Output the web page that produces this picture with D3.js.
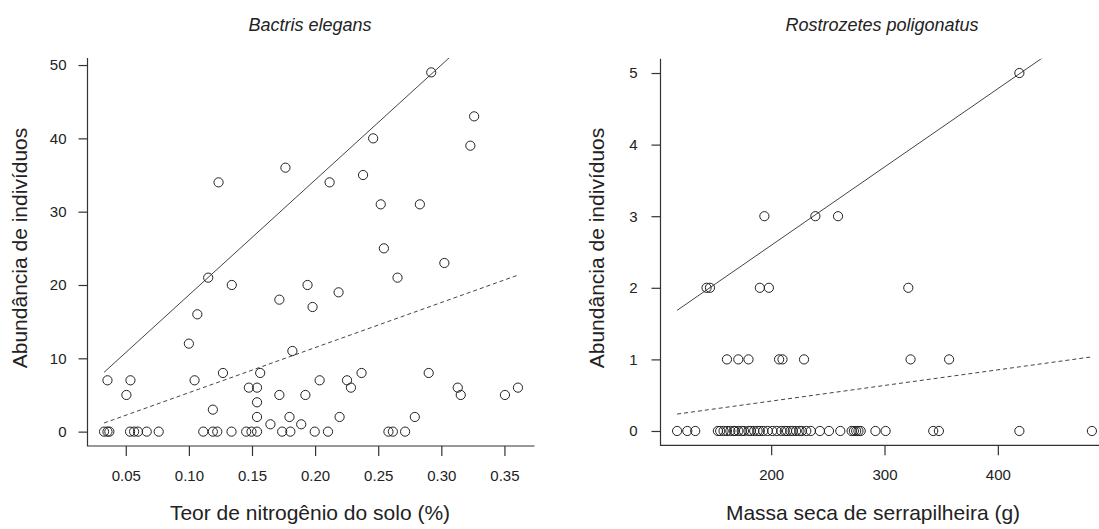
<!DOCTYPE html>
<html>
<head>
<meta charset="utf-8">
<script src="https://cdn.jsdelivr.net/npm/d3@7"></script>
<style>
  html, body { margin: 0; padding: 0; background: #fff; }
  svg { display: block; }
  text { font-family: "Liberation Sans", Arial, sans-serif; fill: #222; }
</style>
</head>
<body>
<svg id="chart" width="1099" height="529"></svg>
<script>
// Bactris elegans: soil nitrogen (%) vs. number of individuals
const bactrisN = [
  0.292, 0.326, 0.323, 0.246, 0.1765, 0.2115, 0.238, 0.252, 0.283, 0.2545,
  0.1235, 0.1153, 0.134, 0.1717, 0.1067, 0.100, 0.182, 0.0355, 0.0537, 0.1045,
  0.127, 0.1565, 0.0505, 0.119, 0.1475, 0.154, 0.154, 0.1717, 0.154, 0.1646,
  0.1797, 0.189, 0.3024, 0.2653, 0.194, 0.2186, 0.198, 0.2036, 0.2253, 0.2284,
  0.2368, 0.290, 0.313, 0.3154, 0.3504, 0.3607, 0.1923, 0.2194, 0.279,
  0.0328, 0.0355, 0.037, 0.0534, 0.0566, 0.0597, 0.0666, 0.0761, 0.1114, 0.119,
  0.1225, 0.1338, 0.1454, 0.1496, 0.154, 0.1739, 0.1804, 0.1997, 0.2102, 0.2581,
  0.2616, 0.2713
];
const bactrisAbund = [
  49, 43, 39, 40, 36, 34, 35, 31, 31, 25,
  34, 21, 20, 18, 16, 12, 11, 7, 7, 7,
  8, 8, 5, 3, 6, 6, 4, 5, 2, 1,
  2, 1, 23, 21, 20, 19, 17, 7, 7, 6,
  8, 8, 6, 5, 5, 6, 5, 2, 2,
  0, 0, 0, 0, 0, 0, 0, 0, 0, 0,
  0, 0, 0, 0, 0, 0, 0, 0, 0, 0,
  0, 0
];

// Rostrozetes poligonatus: litter dry mass (g) vs. number of individuals
const rostroMass = [
  419, 194, 239, 259, 143, 146, 190, 198, 321, 161,
  171, 180, 207, 210, 229, 323, 357,
  117, 126, 133, 153, 155, 158, 161, 164, 167, 168, 171, 174, 176,
  180, 182, 185, 188, 190, 193, 197, 201, 205, 209, 212, 214, 217, 219,
  222, 225, 227, 231, 235, 243, 251, 261, 271, 273, 275, 277, 279,
  292, 301, 343, 348, 419, 483
];
const rostroAbund = [
  5, 3, 3, 3, 2, 2, 2, 2, 2, 1,
  1, 1, 1, 1, 1, 1, 1,
  0, 0, 0, 0, 0, 0, 0, 0, 0, 0, 0, 0, 0,
  0, 0, 0, 0, 0, 0, 0, 0, 0, 0, 0, 0, 0, 0,
  0, 0, 0, 0, 0, 0, 0, 0, 0, 0, 0, 0, 0,
  0, 0, 0, 0, 0, 0
];

// Fitted lines: [intercept, slope] for the upper (solid) and mean (dashed) fits
const bactrisUpper = [2.94, 156.9];
const bactrisMean = [-0.84, 61.5];
const rostroUpper = [0.405, 0.01094];
const rostroMean = [-0.0194, 0.002184];

const bactrisXTicks = [0.05, 0.10, 0.15, 0.20, 0.25, 0.30, 0.35];
const bactrisYTicks = [0, 10, 20, 30, 40, 50];
const rostroXTicks = [200, 300, 400];
const rostroYTicks = [0, 1, 2, 3, 4, 5];

const svg = d3.select("#chart");

// Pad a data range by 4% on each side
function padded(ext) {
  const r = ext[1] - ext[0];
  return [ext[0] - 0.04 * r, ext[1] + 0.04 * r];
}

function panel(opts) {
  const xs = opts.xs, ys = opts.ys;
  const x = d3.scaleLinear().domain(padded(d3.extent(xs))).range(opts.xRange);
  const y = d3.scaleLinear().domain(padded([0, d3.max(ys)])).range(opts.yRange);
  const g = svg.append("g");

  const clipId = "clip-" + opts.id;
  svg.append("clipPath").attr("id", clipId).append("rect")
    .attr("x", opts.xRange[0]).attr("y", opts.yRange[1])
    .attr("width", opts.xRange[1] - opts.xRange[0])
    .attr("height", opts.yRange[0] - opts.yRange[1]);

  // L-shaped frame
  g.append("path")
    .attr("d", `M${opts.xRange[0]},${opts.yRange[1]}V${opts.yRange[0]}H${opts.xRange[1]}`)
    .attr("fill", "none").attr("stroke", "#333").attr("stroke-width", 1.2);

  // x axis ticks and labels
  const xa = g.append("g").attr("transform", `translate(0,${opts.yRange[0]})`)
    .call(d3.axisBottom(x).tickValues(opts.xTicks).tickFormat(opts.xFmt)
      .tickSize(10).tickPadding(14));
  xa.select(".domain").remove();
  xa.selectAll("line").attr("stroke", "#333").attr("stroke-width", 1.2);
  xa.selectAll("text").attr("font-size", 15).attr("fill", "#333")
    .style("font-family", '"Liberation Sans", Arial, sans-serif');

  // y axis ticks and labels
  const ya = g.append("g").attr("transform", `translate(${opts.xRange[0]},0)`)
    .call(d3.axisLeft(y).tickValues(opts.yTicks).tickFormat(d3.format("d"))
      .tickSize(opts.yTickSize).tickPadding(opts.yTickPad));
  ya.select(".domain").remove();
  ya.selectAll("line").attr("stroke", "#333").attr("stroke-width", 1.2);
  ya.selectAll("text").attr("font-size", 15).attr("fill", "#333")
    .style("font-family", '"Liberation Sans", Arial, sans-serif');

  // fitted lines
  const lines = g.append("g").attr("clip-path", `url(#${clipId})`);
  const [xmin, xmax] = d3.extent(xs);
  [[opts.upper, null], [opts.mean, "4,3"]].forEach(([coef, dash]) => {
    const ends = [xmin, xmax].map(v => [x(v), y(coef[0] + coef[1] * v)]);
    lines.append("path")
      .attr("d", d3.line()(ends))
      .attr("fill", "none").attr("stroke", "#444").attr("stroke-width", 1)
      .attr("stroke-dasharray", dash);
  });

  // points
  g.append("g").selectAll("circle").data(d3.range(xs.length)).join("circle")
    .attr("cx", i => x(xs[i])).attr("cy", i => y(ys[i])).attr("r", 4.6)
    .attr("fill", "none").attr("stroke", "#222").attr("stroke-width", 1);

  // titles
  g.append("text").attr("x", opts.titleX).attr("y", 31).attr("text-anchor", "middle")
    .attr("font-size", 18).attr("font-style", "italic").text(opts.title);
  g.append("text").attr("x", opts.xLabelX).attr("y", 520).attr("text-anchor", "middle")
    .attr("font-size", 21).text(opts.xLabel);
  g.append("text")
    .attr("transform", `translate(${opts.yLabelX},248) rotate(-90)`)
    .attr("text-anchor", "middle").attr("font-size", 21).text("Abundância de indivíduos");
}

panel({
  id: "bactris", xs: bactrisN, ys: bactrisAbund,
  xRange: [87.5, 534.5], yRange: [446, 58],
  xTicks: bactrisXTicks, yTicks: bactrisYTicks, xFmt: d3.format(".2f"),
  yTickSize: 9, yTickPad: 12,
  upper: bactrisUpper, mean: bactrisMean,
  title: "Bactris elegans", titleX: 310,
  xLabel: "Teor de nitrogênio do solo (%)", xLabelX: 310, yLabelX: 27
});

panel({
  id: "rostro", xs: rostroMass, ys: rostroAbund,
  xRange: [660.5, 1108.5], yRange: [445.3, 58.7],
  xTicks: rostroXTicks, yTicks: rostroYTicks, xFmt: d3.format("d"),
  yTickSize: 9, yTickPad: 14,
  upper: rostroUpper, mean: rostroMean,
  title: "Rostrozetes poligonatus", titleX: 882,
  xLabel: "Massa seca de serrapilheira (g)", xLabelX: 873, yLabelX: 604
});
</script>
</body>
</html>
